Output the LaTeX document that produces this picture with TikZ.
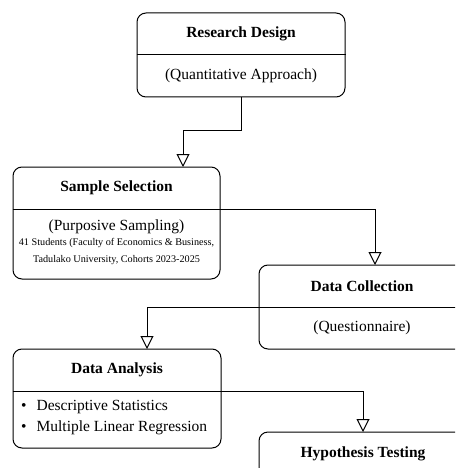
\documentclass[tikz,border=0pt]{standalone}
\usepackage{fontspec}
\setmainfont{Liberation Serif}
\usetikzlibrary{arrows.meta}

\tikzset{
  stagebox/.style={draw=black, line width=1pt, rounded corners=9pt, fill=white, minimum width=208pt},
  divider/.style={draw=black, line width=1pt},
  stagetitle/.style={font=\fontsize{15.5}{18}\selectfont\bfseries},
  stagetext/.style={font=\fontsize{15.5}{18}\selectfont},
  flow/.style={draw=black, line width=1pt, -{Triangle[open, length=13pt, width=13pt]}}
}

\begin{document}
\begin{tikzpicture}[x=1pt,y=-1pt]
\useasboundingbox (0,0) rectangle (455,468);
\clip (0,0) rectangle (455,468);

% research design
\node[stagebox, minimum height=84pt] (design) at (241,55) {};
\draw[divider] (design.west |- 0,55) -- (design.east |- 0,55);
\node[stagetitle] (designtitle) at (241,34) {Research Design};
\node[stagetext] (designtext) at (241,76) {(Quantitative Approach)};

% sample selection
\node[stagebox, minimum height=112pt, minimum width=207pt] (sample) at (116.5,223) {};
\draw[divider] (sample.west |- 0,209) -- (sample.east |- 0,209);
\node[stagetitle] (sampletitle) at (116.5,188) {Sample Selection};
\node[font=\fontsize{15.5}{18}\selectfont] (sampletext) at (116.5,227) {(Purposive Sampling)};
\node[font=\fontsize{10.2}{12}\selectfont] (sampleline1) at (116.5,243.5) {41 Students (Faculty of Economics \& Business,};
\node[font=\fontsize{10.2}{12}\selectfont] (sampleline2) at (116.5,260) {Tadulako University, Cohorts 2023-2025};

% data collection
\node[stagebox, minimum height=84pt] (collect) at (363,307) {};
\draw[divider] (collect.west |- 0,307) -- (collect.east |- 0,307);
\node[stagetitle] (collecttitle) at (362,286) {Data Collection};
\node[stagetext] (collecttext) at (362,328) {(Questionnaire)};

% data analysis
\node[stagebox, minimum height=99pt] (analysis) at (117,398.5) {};
\draw[divider] (analysis.west |- 0,391) -- (analysis.east |- 0,391);
\node[stagetitle] (analysistitle) at (117,370) {Data Analysis};
\node[stagetext, align=left, anchor=north west, inner sep=0pt,
      font=\fontsize{15.5}{21}\selectfont] (analysistext) at (21,400)
  {\textbullet\hspace{10pt}Descriptive Statistics\\ \textbullet\hspace{10pt}Multiple Linear Regression};

% hypothesis testing
\node[stagebox, minimum height=84pt] (hypo) at (363,474) {};
\node[stagetitle] (hypotitle) at (363,454) {Hypothesis Testing};

% connectors
\coordinate (sampleIn) at (183,167);
\coordinate (collectIn) at (375,265);
\coordinate (analysisIn) at (147,349);
\coordinate (hypoIn) at (363,432);
\draw[flow] (design.south) -- ++(0,33) -| (sampleIn);
\draw[flow] (sample.east |- 0,209) -| (collectIn);
\draw[flow] (collect.west |- 0,307) -| (analysisIn);
\draw[flow] (analysis.east |- 0,391) -| (hypoIn);
\end{tikzpicture}
\end{document}
